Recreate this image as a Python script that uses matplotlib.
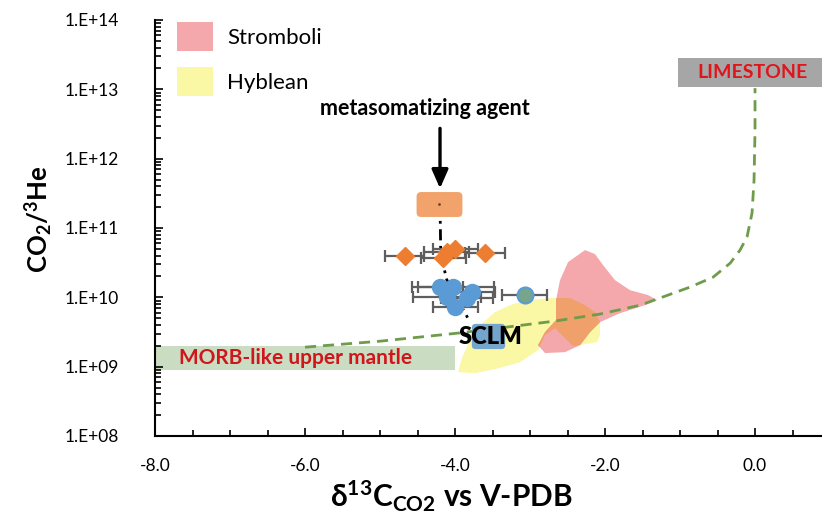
import numpy as np
import matplotlib
matplotlib.use("Agg")
import matplotlib.pyplot as plt
from matplotlib.patches import Patch, Rectangle, BoxStyle
from matplotlib.ticker import LogLocator, MultipleLocator, FormatStrFormatter, FuncFormatter, NullFormatter

plt.rcParams['font.family'] = ['Lato', 'DejaVu Sans']
plt.rcParams['mathtext.fontset'] = 'custom'
plt.rcParams['mathtext.rm'] = 'Lato'
plt.rcParams['mathtext.bf'] = 'Lato:bold'
plt.rcParams['mathtext.it'] = 'Lato:italic'
plt.rcParams['axes.unicode_minus'] = False

# samples (d13C vs CO2/3He)
orange_d13c = [-4.67, -4.16, -4.11, -4.0, -3.6]
orange_ratio = [3.9e10, 3.7e10, 4.5e10, 5.0e10, 4.3e10]
orange_err = [0.26, 0.3, 0.3, 0.3, 0.27]

blue_d13c = [-4.2, -4.03, -3.77, -4.11, -3.84, -4.0]
blue_ratio = [1.40e10, 1.40e10, 1.19e10, 1.0e10, 9.8e9, 7.2e9]
blue_err = [0.3, 0.55, 0.3, 0.45, 0.35, 0.3]

teal_d13c = [-3.07]
teal_ratio = [1.07e10]
teal_err = [0.3]

# metasomatizing agent and tie line down to SCLM
agent_d13c = -4.22
agent_ratio = 2.2e11
tie_d13c = [-4.2, -4.19, -4.11, -3.8]
tie_ratio = [2.2e11, 4.1e10, 1.8e10, 4.4e9]

# mantle - limestone mixing curve
mix_d13c = [-6.0, -5.0, -3.97, -3.31, -2.67, -2.07, -1.53, -1.27, -0.87, -0.56,
            -0.33, -0.2, -0.107, -0.04, -0.013, 0.0, 0.0]
mix_ratio = [1.91e9, 2.33e9, 3.04e9, 3.72e9, 4.54e9, 5.73e9, 7.71e9, 9.75e9,
             1.40e10, 1.95e10, 3.12e10, 4.80e10, 7.40e10, 1.64e11, 4.91e11,
             2.59e12, 1.04e13]

# field outlines
stromboli_d13c = [-2.267, -2.133, -2.027, -1.867, -1.667, -1.427, -1.307, -1.467,
                  -1.8, -2.067, -2.2, -2.333, -2.533, -2.8, -2.893, -2.8, -2.653,
                  -2.653, -2.6, -2.493]
stromboli_ratio = [4.80e10, 4.20e10, 2.92e10, 1.77e10, 1.27e10, 1.08e10, 9.12e9,
                   7.71e9, 5.91e9, 4.39e9, 3.15e9, 2.04e9, 1.62e9, 1.57e9, 2.04e9,
                   3.15e9, 4.69e9, 9.12e9, 1.77e10, 3.22e10]
hyblean_d13c = [-3.96, -3.907, -3.8, -3.667, -3.467, -3.267, -3.04, -2.733, -2.467,
                -2.267, -2.133, -2.067, -2.067, -2.107, -2.427, -2.667, -2.8, -2.893,
                -3.133, -3.467, -3.733]
hyblean_ratio = [8.34e8, 1.33e9, 2.41e9, 3.97e9, 6.11e9, 7.71e9, 9.12e9, 9.75e9,
                 9.75e9, 7.71e9, 6.11e9, 4.39e9, 2.85e9, 2.26e9, 1.98e9, 3.60e9,
                 2.85e9, 1.73e9, 1.16e9, 9.2e8, 8.05e8]

# end-member boxes
morb_d13c = (-8.0, -4.0)
morb_ratio = (9.0e8, 2.0e9)
lime_d13c = (-1.03, 1.0)
lime_ratio = (1.07e13, 2.8e13)
sclm_d13c = -3.56
sclm_ratio = 2.75e9

PINK = '#f5a8ac'
YELLOW = '#faf7a5'
OVERLAP = '#efa06b'

fig = plt.figure(figsize=(8.22, 5.2), dpi=100)
ax = fig.add_axes([155 / 822, 84 / 520, 667 / 822, 416 / 520])
ax.set_yscale('log')
ax.set_xlim(-8, 0.893)
ax.set_ylim(1e8, 1e14)

# fields
hyb = ax.fill(hyblean_d13c, hyblean_ratio, color=YELLOW, lw=0, zorder=1)[0]
ax.fill(stromboli_d13c, stromboli_ratio, color=PINK, lw=0, zorder=1.1)
over = ax.fill(stromboli_d13c, stromboli_ratio, color=OVERLAP, lw=0, zorder=1.2)[0]
over.set_clip_path(hyb)

# end-member boxes
ax.add_patch(Rectangle((morb_d13c[0], morb_ratio[0]), morb_d13c[1] - morb_d13c[0],
                       morb_ratio[1] - morb_ratio[0], fc='#cadcc2', ec='none', zorder=1))
ax.text(-6.13, 1.33e9, 'MORB-like upper mantle', color='#d0161b', fontsize=15,
        fontweight='bold', ha='center', va='center', zorder=6)
ax.add_patch(Rectangle((lime_d13c[0], lime_ratio[0]), lime_d13c[1] - lime_d13c[0],
                       lime_ratio[1] - lime_ratio[0], fc='#a6a6a6', ec='none',
                       zorder=1, clip_on=False))
ax.text(-0.03, 1.75e13, 'LIMESTONE', color='#e0141b', fontsize=14,
        fontweight='bold', ha='center', va='center', zorder=6)

# mixing curve
ax.plot(mix_d13c, mix_ratio, color='#6e9c4a', lw=2, dashes=(4, 2.5), zorder=2)

# rounded boxes drawn as markers
agent_box = BoxStyle.Round(pad=0.0, rounding_size=0.18)(-0.92, -0.5, 1.84, 1.0, 1.0)
sclm_box = BoxStyle.Round(pad=0.0, rounding_size=0.15)(-0.66, -0.5, 1.32, 1.0, 1.0)
ax.plot([sclm_d13c], [sclm_ratio], marker=sclm_box, ms=24, mfc='#74a6cd',
        mec='none', ls='none', zorder=3)
ax.text(-3.53, 2.65e9, 'SCLM', fontsize=17, fontweight='heavy', ha='center',
        va='center', zorder=6)

# tie line
ax.plot(tie_d13c, tie_ratio, color='black', lw=2, dashes=(4, 2, 1, 2), zorder=2.5)
ax.plot([agent_d13c], [agent_ratio], marker=agent_box, ms=33, mfc='#f2a36b',
        mec='none', ls='none', zorder=3)
ax.plot([agent_d13c], [agent_ratio], marker='.', ms=2, color='#7a4020', zorder=3.1)

# samples
for d, r, e in [(orange_d13c, orange_ratio, orange_err),
                (blue_d13c, blue_ratio, blue_err),
                (teal_d13c, teal_ratio, teal_err)]:
    ax.errorbar(d, r, xerr=e, fmt='none', ecolor='#5e5e5e', elinewidth=1.6,
                capsize=4, capthick=1.6, zorder=3.5)
ax.plot(orange_d13c, orange_ratio, 'D', ms=9, color='#ed7d31', zorder=4)
ax.plot(blue_d13c, blue_ratio, 'o', ms=11.5, color='#5b9bd5', zorder=4)
ax.plot(teal_d13c, teal_ratio, 'o', ms=11.5, mfc='#76a58a', mec='#5b9bd5',
        mew=1.5, zorder=4)

# arrow and label
ax.annotate('', xy=(-4.2, 3.4e11), xytext=(-4.2, 3.0e12),
            arrowprops=dict(arrowstyle='-|>,head_width=0.33,head_length=0.75',
                            mutation_scale=15, color='black', lw=2.4), zorder=6)
ax.text(-4.4, 5.3e12, 'metasomatizing agent', fontsize=15.5, fontweight='bold',
        ha='center', va='center', zorder=6)

# legend
handles = [Patch(fc=PINK, ec='none', label='Stromboli'),
           Patch(fc=YELLOW, ec='none', label='Hyblean')]
ax.legend(handles=handles, loc='upper left', bbox_to_anchor=(0.033, 0.995),
          frameon=False, fontsize=16, handlelength=1.6, handleheight=1.6,
          handletextpad=0.65, labelspacing=0.75, borderpad=0, borderaxespad=0)

# axes
for s in ['top', 'right']:
    ax.spines[s].set_visible(False)
for s in ['left', 'bottom']:
    ax.spines[s].set_linewidth(1.5)
ax.xaxis.set_major_locator(MultipleLocator(2))
ax.xaxis.set_minor_locator(MultipleLocator(0.5))
ax.xaxis.set_major_formatter(FormatStrFormatter('%.1f'))
ax.yaxis.set_major_locator(LogLocator(base=10, numticks=10))
ax.yaxis.set_minor_locator(LogLocator(base=10, subs=np.arange(2, 10), numticks=20))
ax.yaxis.set_minor_formatter(NullFormatter())
ax.yaxis.set_major_formatter(FuncFormatter(lambda v, p: '1.E+%02d' % round(np.log10(v))))
ax.tick_params(which='both', direction='in', width=1.2, labelsize=12.5)
ax.tick_params(which='major', length=6)
ax.tick_params(which='minor', length=4)
ax.tick_params(axis='y', pad=26)
ax.tick_params(axis='x', pad=16)

ax.set_xlabel(r'$\mathbf{\delta^{13}C_{CO2}}$ vs V-PDB', fontsize=21.5, fontweight='bold')
ax.xaxis.set_label_coords(0.445, -0.102)
ax.set_ylabel(r'CO$_\mathbf{2}$/$^\mathbf{3}$He', fontsize=18.5, fontweight='bold')
ax.yaxis.set_label_coords(-0.152, 0.52)

fig.savefig('out.png', dpi=100)
